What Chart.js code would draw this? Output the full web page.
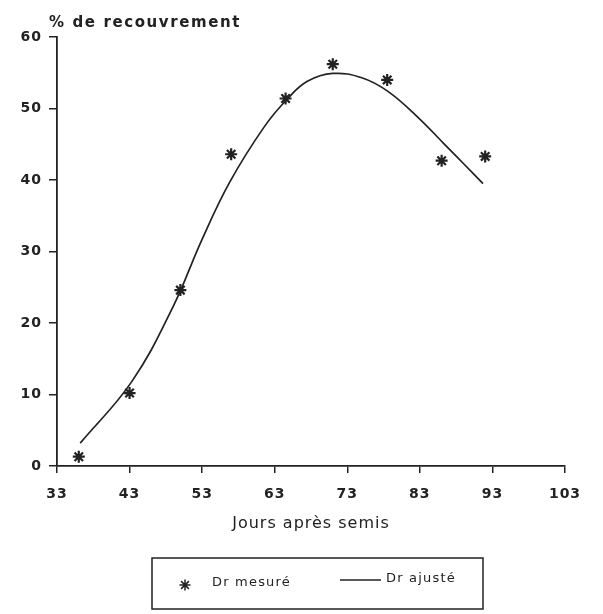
<!DOCTYPE html>
<html lang="fr">
<head>
<meta charset="UTF-8">
<title>% de recouvrement</title>
<script src="https://cdn.jsdelivr.net/npm/chart.js"></script>
<style>
  html, body { margin: 0; padding: 0; background: #fff; }
  canvas { display: block; }
</style>
</head>
<body>
<canvas id="graficoRecouvrement" width="603" height="614"></canvas>

<script>
// relevés (jours après semis / % de recouvrement)
const joursMesure = [36, 43, 50, 57, 64.5, 71, 78.5, 86, 92];
const drMesure = [1.3, 10.2, 24.6, 43.6, 51.4, 56.2, 54.0, 42.7, 43.3];

// courbe ajustée, points lus le long du tracé
const joursAjuste = [36.2, 43.3, 49.0, 52.9, 56.8, 61.6, 64.8, 67.5, 71.0, 75.0, 78.6, 82.7, 86.3, 89.1, 91.7];
const drAjuste = [3.2, 11.8, 22.3, 31.5, 39.7, 47.5, 51.4, 53.8, 54.9, 54.3, 52.4, 48.8, 45.1, 42.2, 39.5];

const ticksX = [33, 43, 53, 63, 73, 83, 93, 103];
const ticksY = [0, 10, 20, 30, 40, 50, 60];

const encre = '#222';
const police = '"DejaVu Sans", sans-serif';

// espacement des lettres, comme sur le tracé d'origine
const espacement = {
    id: 'espacement',
    beforeDraw(chart) {
        chart.ctx.letterSpacing = '1px';
    }
};

// titre de l'axe Y, écrit à l'horizontale au-dessus de l'axe
const titreAxeY = {
    id: 'titreAxeY',
    afterDraw(chart) {
        const ctx = chart.ctx;
        ctx.save();
        ctx.letterSpacing = '1.6px';
        ctx.font = 'bold 15px ' + police;
        ctx.fillStyle = encre;
        ctx.textBaseline = 'alphabetic';
        ctx.fillText('% de recouvrement', chart.chartArea.left - 8, 27);
        ctx.restore();
    }
};

// légende encadrée sous le graphique
const legendeCadre = {
    id: 'legendeCadre',
    afterDraw(chart) {
        const ctx = chart.ctx;
        const ds = chart.data.datasets;
        const bx = 152, by = 558, bw = 331, bh = 51;
        const cy = by + 24;
        ctx.save();
        ctx.strokeStyle = encre;
        ctx.lineWidth = 1.5;
        ctx.strokeRect(bx, by, bw, bh);

        Chart.helpers.drawPoint(ctx, {
            pointStyle: ds[0].pointStyle,
            radius: 5.5,
            borderWidth: 1.8
        }, bx + 33, cy + 3);

        ctx.beginPath();
        ctx.lineWidth = ds[1].borderWidth;
        ctx.moveTo(bx + 188, cy - 2);
        ctx.lineTo(bx + 229, cy - 2);
        ctx.stroke();

        ctx.letterSpacing = '1.2px';
        ctx.font = '13px ' + police;
        ctx.fillStyle = encre;
        ctx.textBaseline = 'middle';
        ctx.fillText(ds[0].label, bx + 60, cy + 1);
        ctx.fillText(ds[1].label, bx + 234, cy - 3);
        ctx.restore();
    }
};

const ctx = document.getElementById('graficoRecouvrement').getContext('2d');

new Chart(ctx, {
    type: 'scatter',
    data: {
        datasets: [{
            label: 'Dr mesuré',
            data: joursMesure.map((j, i) => ({ x: j, y: drMesure[i] })),
            pointStyle: 'star',
            pointRadius: 6,
            pointBorderWidth: 2.2,
            borderColor: encre,
            backgroundColor: encre,
            showLine: false,
            order: 1
        }, {
            label: 'Dr ajusté',
            data: joursAjuste.map((j, i) => ({ x: j, y: drAjuste[i] })),
            showLine: true,
            pointRadius: 0,
            borderColor: encre,
            borderWidth: 1.7,
            tension: 0.4,
            fill: false,
            order: 2
        }]
    },
    options: {
        responsive: false,
        animation: false,
        layout: {
            padding: { top: 37, right: 38, bottom: 0, left: 0 }
        },
        plugins: {
            legend: { display: false },
            tooltip: { enabled: false }
        },
        scales: {
            x: {
                type: 'linear',
                min: 33,
                max: 103,
                afterBuildTicks: (axis) => { axis.ticks = ticksX.map(v => ({ value: v })); },
                afterFit: (axis) => { axis.height = 148; },
                grid: { drawOnChartArea: false, drawTicks: true, tickLength: 7, color: encre, lineWidth: 1.5 },
                border: { display: true, color: encre, width: 1.8 },
                ticks: {
                    color: encre,
                    font: { family: police, size: 14, weight: 'bold' },
                    padding: 13,
                    maxRotation: 0,
                    autoSkip: false
                },
                title: {
                    display: true,
                    text: 'Jours après semis',
                    color: encre,
                    font: { family: police, size: 16 },
                    padding: { top: 0, bottom: 81 }
                }
            },
            y: {
                type: 'linear',
                min: 0,
                max: 60,
                afterBuildTicks: (axis) => { axis.ticks = ticksY.map(v => ({ value: v })); },
                afterFit: (axis) => { axis.width = 57; },
                grid: { drawOnChartArea: false, drawTicks: true, tickLength: 8, color: encre, lineWidth: 1.5 },
                border: { display: true, color: encre, width: 1.8 },
                ticks: {
                    color: encre,
                    font: { family: police, size: 14, weight: 'bold' },
                    padding: 7
                }
            }
        }
    },
    plugins: [espacement, titreAxeY, legendeCadre]
});
</script>
</body>
</html>
